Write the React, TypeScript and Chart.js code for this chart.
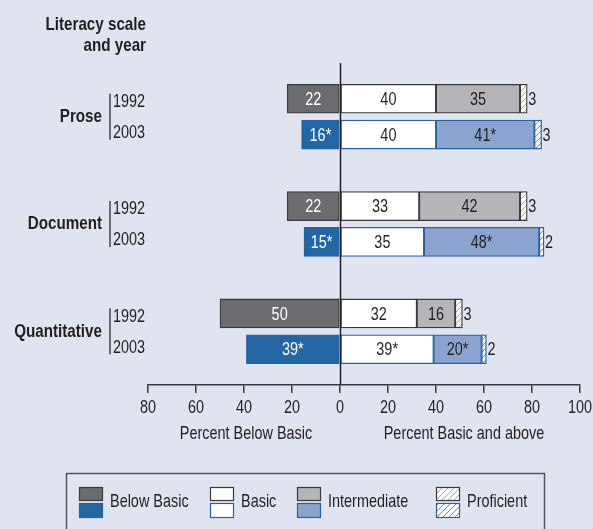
import React, { useEffect, useRef } from "react";
import { Chart, registerables } from "chart.js";

Chart.register(...registerables);

const literacyScales = ["Prose", "Document", "Quantitative"];
const years = ["1992", "2003"];
// rows: Prose 1992, Prose 2003, Document 1992, Document 2003, Quantitative 1992, Quantitative 2003
const belowBasic = [22, 16, 22, 15, 50, 39];
const basic = [40, 40, 33, 35, 32, 39];
const intermediate = [35, 41, 42, 48, 16, 20];
const proficient = [3, 3, 3, 2, 3, 2];
const belowBasicSig = [false, true, false, true, false, true];
const basicSig = [false, false, false, false, false, true];
const intermediateSig = [false, true, false, true, false, true];
const proficientSig = [false, false, false, false, false, false];
const xTicks = [-80, -60, -40, -20, 0, 20, 40, 60, 80, 100];
const levelNames = ["Below Basic", "Basic", "Intermediate", "Proficient"];

const FONT = '"Liberation Sans", Arial, sans-serif';
const TEXT = "#231f20";
const BG = "#dfe4f0";
const DARK_BORDER = "#3a3a3c";
const BLUE_BORDER = "#2464a4";
const FS = 19;
const SX = 0.76;
const SX_BOLD = 0.8;

function hatch(ctx: CanvasRenderingContext2D, line: string) {
  const c = document.createElement("canvas");
  c.width = 6;
  c.height = 6;
  const g = c.getContext("2d")!;
  g.fillStyle = "#ffffff";
  g.fillRect(0, 0, 6, 6);
  g.strokeStyle = line;
  g.lineWidth = 0.9;
  g.beginPath();
  g.moveTo(0, 6);
  g.lineTo(6, 0);
  g.moveTo(-3, 3);
  g.lineTo(3, -3);
  g.moveTo(3, 9);
  g.lineTo(9, 3);
  g.stroke();
  return ctx.createPattern(c, "repeat")!;
}

function text(
  c: CanvasRenderingContext2D,
  s: string,
  x: number,
  y: number,
  align: CanvasTextAlign,
  color: string,
  bold = false
) {
  c.save();
  c.translate(x, y);
  c.scale(bold ? SX_BOLD : SX, 1);
  c.font = `${bold ? "bold " : ""}${FS}px ${FONT}`;
  c.textAlign = align;
  c.textBaseline = "middle";
  c.fillStyle = color;
  c.fillText(s, 0, 0);
  c.restore();
}

export default function App() {
  const ref = useRef<HTMLCanvasElement | null>(null);

  useEffect(() => {
    document.body.style.margin = "0";
    const canvas = ref.current!;
    const ctx = canvas.getContext("2d")!;

    // build rows with spacer rows between scales
    const rows: (number | null)[] = [null];
    literacyScales.forEach((_, i) => {
      rows.push(i * 2, i * 2 + 1, null);
    });
    const rowLabels = rows.map((r) =>
      r === null ? "" : literacyScales[Math.floor(r / 2)] + " " + years[r % 2]
    );

    const hatchGrey = hatch(ctx, "#a0a0a0");
    const hatchBlue = hatch(ctx, "#4a82bd");

    const fills = [
      ["#6b6c70", "#2266a6"],
      ["#ffffff", "#ffffff"],
      ["#b4b5b9", "#8aa4cf"],
      [hatchGrey, hatchBlue],
    ];
    const borders = [DARK_BORDER, BLUE_BORDER];
    const values = [belowBasic, basic, intermediate, proficient];
    const sigs = [belowBasicSig, basicSig, intermediateSig, proficientSig];
    const labelColors = ["#ffffff", TEXT, TEXT, TEXT];

    const datasets = values.map((vals, k) => ({
      label: levelNames[k],
      data: rows.map((r) => (r === null ? null : k === 0 ? -vals[r] : vals[r])),
      backgroundColor: rows.map((r) => (r === null ? "transparent" : fills[k][r % 2])),
      borderColor: rows.map((r) => (r === null ? "transparent" : borders[r % 2])),
      borderWidth: 1.3,
      borderSkipped: false as const,
      barThickness: 29,
    }));

    const drawPlugin = {
      id: "custom",
      beforeDraw(chart: any) {
        const c = chart.ctx;
        c.save();
        c.fillStyle = BG;
        c.fillRect(0, 0, chart.width, chart.height);
        c.restore();
      },
      afterDatasetsDraw(chart: any) {
        const c: CanvasRenderingContext2D = chart.ctx;
        const xs = chart.scales.x;
        const ys = chart.scales.y;
        const area = chart.chartArea;
        c.save();
        // zero line
        const x0 = Math.round(xs.getPixelForValue(0)) + 0.5;
        c.strokeStyle = TEXT;
        c.lineWidth = 1.5;
        c.beginPath();
        c.moveTo(x0, area.top);
        c.lineTo(x0, area.bottom);
        c.stroke();

        // x tick labels
        xs.ticks.forEach((t: any) => {
          text(c, String(Math.abs(t.value)), xs.getPixelForValue(t.value), area.bottom + 23, "center", TEXT);
        });

        // bar value labels
        values.forEach((vals, k) => {
          const meta = chart.getDatasetMeta(k);
          meta.data.forEach((el: any, i: number) => {
            const r = rows[i];
            if (r === null) return;
            const txt = String(vals[r]) + (sigs[k][r] ? "*" : "");
            if (k === 3) {
              text(c, txt, Math.max(el.x, el.base) + 1, el.y + 1, "left", labelColors[k]);
            } else {
              text(c, txt, (el.x + el.base) / 2, el.y + 1, "center", labelColors[k]);
            }
          });
        });

        // left category labels
        literacyScales.forEach((name, i) => {
          const idx1 = rows.indexOf(i * 2);
          const idx2 = rows.indexOf(i * 2 + 1);
          const cy = (ys.getPixelForValue(idx1) + ys.getPixelForValue(idx2)) / 2;
          text(c, name, 102, cy, "right", TEXT, true);
          c.strokeStyle = TEXT;
          c.lineWidth = 1.2;
          c.beginPath();
          c.moveTo(110, cy - 23);
          c.lineTo(110, cy + 23);
          c.stroke();
          text(c, years[0], 113, cy - 15, "left", TEXT);
          text(c, years[1], 113, cy + 16, "left", TEXT);
        });

        // title
        text(c, "Literacy scale", 146, 25, "right", TEXT, true);
        text(c, "and year", 146, 46, "right", TEXT, true);

        // axis titles
        text(c, "Percent Below Basic", 246, 434, "center", TEXT);
        text(c, "Percent Basic and above", 464, 434, "center", TEXT);

        // legend
        c.strokeStyle = "#555558";
        c.lineWidth = 1.5;
        c.strokeRect(66.5, 473.5, 478, 80);
        const swX = [79, 210, 297, 436];
        levelNames.forEach((nm, k) => {
          const x = swX[k];
          c.fillStyle = fills[k][0] as any;
          c.fillRect(x, 487, 24, 14);
          c.strokeStyle = DARK_BORDER;
          c.lineWidth = 1.2;
          c.strokeRect(x + 0.5, 487.5, 23, 13);
          c.fillStyle = fills[k][1] as any;
          c.fillRect(x, 503, 24, 15);
          c.strokeStyle = BLUE_BORDER;
          c.strokeRect(x + 0.5, 503.5, 23, 14);
          text(c, nm, x + 31, 502, "left", TEXT);
        });
        c.restore();
      },
    };

    const chart = new Chart(canvas, {
      type: "bar",
      data: { labels: rowLabels, datasets: datasets as any },
      options: {
        indexAxis: "y",
        animation: false,
        responsive: false,
        devicePixelRatio: 1,
        layout: { padding: { left: 148, right: 13, top: 63, bottom: 136 } },
        plugins: { legend: { display: false }, tooltip: { enabled: false }, title: { display: false } },
        scales: {
          x: {
            type: "linear",
            min: -80,
            max: 100,
            stacked: true,
            afterBuildTicks: (axis: any) => {
              axis.ticks = xTicks.map((v) => ({ value: v }));
            },
            ticks: { display: false },
            grid: {
              display: true,
              drawOnChartArea: false,
              drawTicks: true,
              tickLength: 8,
              tickColor: "#3a3a3c",
              lineWidth: 1.5,
            },
            border: { display: true, color: "#3a3a3c", width: 1.5 },
          },
          y: {
            type: "category",
            stacked: true,
            offset: false,
            display: false,
          },
        },
      },
      plugins: [drawPlugin],
    });
    return () => chart.destroy();
  }, []);

  return (
    <div style={{ position: "absolute", left: 0, top: 0, width: 593, height: 529, background: BG }}>
      <canvas ref={ref} width={593} height={529} style={{ display: "block" }} />
    </div>
  );
}
